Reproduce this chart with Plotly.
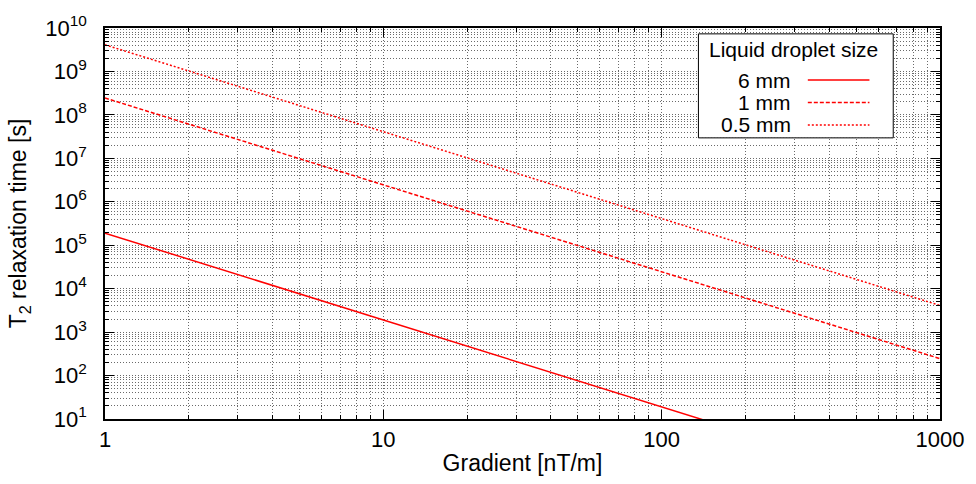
import plotly.graph_objects as go

# Gradient end points [nT/m] and T2 relaxation times [s] (straight lines on log-log axes)
gradient = [1, 1000]
t2_6mm = [1.9e5, 0.19]
t2_1mm = [2.45e8, 245]
t2_05mm = [4.1e9, 4.1e3]

series_names = ["6 mm", "1 mm", "0.5 mm"]
series_values = [t2_6mm, t2_1mm, t2_05mm]
series_dash = ["solid", "4px,2px", "2px,2px"]

x_tickvals = [1, 10, 100, 1000]
x_ticktext = ["1", "10", "100", "1000"]
y_exponents = list(range(1, 11))
y_tickvals = [10 ** k for k in y_exponents]
y_ticktext = [f"10<sup>{k}</sup>" for k in y_exponents]

FONT = "Liberation Sans, Arial, sans-serif"
RED = "#ff0000"
GRID = "#6a6a6a"

fig = go.Figure()
for name, vals, dash in zip(series_names, series_values, series_dash):
    fig.add_trace(go.Scatter(
        x=gradient, y=vals, mode="lines", name=name, showlegend=False,
        line=dict(color=RED, width=1.5, dash=dash),
    ))

axis_common = dict(
    type="log",
    showline=True, linecolor="black", linewidth=1.5, mirror="allticks",
    ticks="inside", ticklen=9, tickwidth=1, tickcolor="black",
    showgrid=True, gridcolor=GRID, gridwidth=1, griddash="1px,2px",
    zeroline=False,
    tickfont=dict(family=FONT, size=22, color="black"),
    minor=dict(dtick="D1", ticks="inside", ticklen=4, tickcolor="black",
               showgrid=True, gridcolor=GRID, gridwidth=1, griddash="1px,2px"),
)

fig.update_xaxes(
    **axis_common,
    range=[0, 3],
    tickvals=x_tickvals, ticktext=x_ticktext,
    title=dict(text="Gradient [nT/m]", font=dict(family=FONT, size=23, color="black"), standoff=4),
)
fig.update_yaxes(
    **axis_common,
    range=[1, 10],
    tickvals=y_tickvals, ticktext=y_ticktext,
    ticklabelstandoff=12,
    title=dict(text="T<sub>2</sub> relaxation time [s]", font=dict(family=FONT, size=23, color="black"), standoff=12),
)

# Legend drawn in gnuplot style: label on the left, line sample on the right
box = dict(x0=0.7107, x1=0.944, y0=0.719, y1=0.985)
fig.add_shape(type="rect", xref="paper", yref="paper", **box,
              line=dict(color="black", width=1), fillcolor="white", layer="above")
fig.add_annotation(xref="paper", yref="paper", x=0.825, y=0.945, text="Liquid droplet size",
                   showarrow=False, xanchor="center", yanchor="middle",
                   font=dict(family=FONT, size=21, color="black"))
row_y = [0.867, 0.8095, 0.752]
for name, dash, ry in zip(series_names, series_dash, row_y):
    fig.add_annotation(xref="paper", yref="paper", x=0.8238, y=ry, text=name,
                       showarrow=False, xanchor="right", yanchor="middle",
                       font=dict(family=FONT, size=21, color="black"))
    fig.add_shape(type="line", xref="paper", yref="paper", x0=0.8417, x1=0.9155, y0=ry, y1=ry,
                  line=dict(color=RED, width=1.5, dash=dash), layer="above")

fig.update_layout(
    width=976, height=484,
    margin=dict(l=105, r=31, t=21, b=64),
    paper_bgcolor="white", plot_bgcolor="white",
    font=dict(family=FONT, color="black"),
)

fig.write_html("out.html")
